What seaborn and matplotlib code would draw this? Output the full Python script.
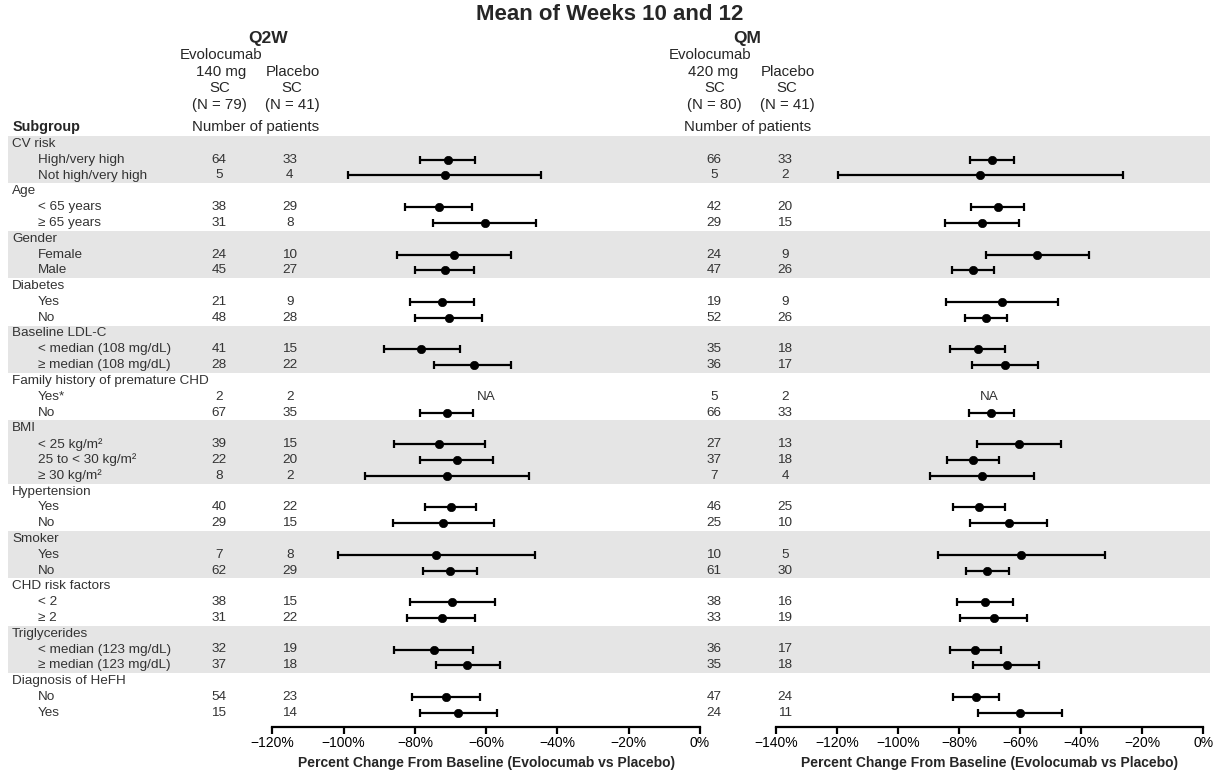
import numpy as np
import pandas as pd
import matplotlib
matplotlib.use("Agg")
import matplotlib.pyplot as plt
from matplotlib.ticker import FuncFormatter
import seaborn as sns

# ---- data -------------------------------------------------------------
group_names = ["CV risk", "Age", "Gender", "Diabetes", "Baseline LDL-C",
               "Family history of premature CHD", "BMI", "Hypertension",
               "Smoker", "CHD risk factors", "Triglycerides", "Diagnosis of HeFH"]
group_sizes = [2, 2, 2, 2, 2, 2, 3, 2, 2, 2, 2, 2]
subgroup_labels = ["High/very high", "Not high/very high",
                   "< 65 years", "\u2265 65 years",
                   "Female", "Male",
                   "Yes", "No",
                   "< median (108 mg/dL)", "\u2265 median (108 mg/dL)",
                   "Yes*", "No",
                   "< 25 kg/m\u00b2", "25 to < 30 kg/m\u00b2", "\u2265 30 kg/m\u00b2",
                   "Yes", "No",
                   "Yes", "No",
                   "< 2", "\u2265 2",
                   "< median (123 mg/dL)", "\u2265 median (123 mg/dL)",
                   "No", "Yes"]

# Q2W: evolocumab 140 mg SC vs placebo SC
q2w_n_evo = [64, 5, 38, 31, 24, 45, 21, 48, 41, 28, 2, 67, 39, 22, 8, 40, 29, 7, 62, 38, 31, 32, 37, 54, 15]
q2w_n_pbo = [33, 4, 29, 8, 10, 27, 9, 28, 15, 22, 2, 35, 15, 20, 2, 22, 15, 8, 29, 15, 22, 19, 18, 23, 14]
q2w_est = [-70.8, -71.5, -73.3, -60.3, -68.9, -71.5, -72.3, -70.5, -78.2, -63.5, np.nan, -71.1,
           -73.1, -68.3, -71.1, -70.0, -72.1, -74.0, -70.2, -69.5, -72.5, -74.7, -65.3, -71.2, -67.8]
q2w_lo = [-78.5, -98.8, -82.7, -74.9, -85.0, -79.9, -81.3, -79.9, -88.7, -74.5, np.nan, -78.7,
          -85.8, -78.5, -94.1, -77.2, -86.2, -101.7, -77.6, -81.4, -82.2, -85.8, -74.2, -80.9, -78.7]
q2w_hi = [-63.0, -44.5, -64.1, -45.9, -53.1, -63.4, -63.4, -61.1, -67.4, -53.0, np.nan, -63.6,
          -60.3, -58.1, -48.1, -62.9, -57.9, -46.4, -62.7, -57.5, -63.0, -63.7, -56.2, -61.6, -56.9]

# QM: evolocumab 420 mg SC vs placebo SC
qm_n_evo = [66, 5, 42, 29, 24, 47, 19, 52, 35, 36, 5, 66, 27, 37, 7, 46, 25, 10, 61, 38, 33, 36, 35, 47, 24]
qm_n_pbo = [33, 2, 20, 15, 9, 26, 9, 26, 18, 17, 2, 33, 13, 18, 4, 25, 10, 5, 30, 16, 19, 17, 18, 24, 11]
qm_est = [-69.3, -73.0, -67.3, -72.4, -54.4, -75.5, -65.9, -71.3, -73.8, -65.0, np.nan, -69.4,
          -60.5, -75.5, -72.5, -73.4, -63.6, -59.7, -70.8, -71.5, -68.7, -74.7, -64.4, -74.6, -60.0]
qm_lo = [-76.6, -119.7, -76.1, -84.5, -71.3, -82.2, -84.4, -78.2, -82.9, -75.8, np.nan, -76.8,
         -74.2, -84.0, -89.4, -81.9, -76.4, -87.0, -77.8, -80.7, -79.6, -83.1, -75.3, -81.9, -73.9]
qm_hi = [-62.0, -26.4, -58.8, -60.3, -37.5, -68.7, -47.6, -64.2, -65.0, -54.1, np.nan, -62.1,
         -46.7, -67.1, -55.6, -65.0, -51.2, -32.3, -63.5, -62.2, -57.7, -66.3, -53.8, -67.0, -46.2]

panel_titles = ["Q2W", "QM"]
panel_doses = ["140 mg", "420 mg"]
panel_n_evo = ["(N = 79)", "(N = 80)"]
panel_n_pbo = ["(N = 41)", "(N = 41)"]
panel_xmin = [-120, -140]

# ---- layout helpers ---------------------------------------------------
W, H = 1224, 774
LINE = 15.8          # height of one text line (px)
TOP = 136            # top of the first shaded band (px)
AX_BOTTOM = 726.7    # axis line (px)


def fx(px):
    return px / W


def fy(py):
    return 1 - py / H


# line index for each group header and each subgroup row
header_line, row_line = [], []
k = 0
for size in group_sizes:
    header_line.append(k)
    k += 1
    for _ in range(size):
        row_line.append(k)
        k += 1
n_lines = k

ylim = ((AX_BOTTOM - TOP) / LINE - 0.5, -0.5)

df = pd.DataFrame({
    "label": subgroup_labels,
    "line": row_line,
    "q2w_n_evo": q2w_n_evo, "q2w_n_pbo": q2w_n_pbo,
    "q2w_est": q2w_est, "q2w_lo": q2w_lo, "q2w_hi": q2w_hi,
    "qm_n_evo": qm_n_evo, "qm_n_pbo": qm_n_pbo,
    "qm_est": qm_est, "qm_lo": qm_lo, "qm_hi": qm_hi,
})

sns.set_theme(style="white")
plt.rcParams["font.family"] = ["Liberation Sans", "DejaVu Sans"]
plt.rcParams["axes.unicode_minus"] = True

fig = plt.figure(figsize=(W / 100, H / 100), dpi=100)

TXT = "#333333"
BAND = "#e5e5e5"
ROW_FS = 9.7
HEAD_FS = 10.8

# background table (bands and row text)
ax_bottom_frac = fy(AX_BOTTOM)
ax_height_frac = (AX_BOTTOM - TOP) / H
bg = fig.add_axes([0, ax_bottom_frac, 1, ax_height_frac])
bg.set_xlim(0, W)
bg.set_ylim(*ylim)
bg.axis("off")

for gi, (name, size) in enumerate(zip(group_names, group_sizes)):
    start = header_line[gi]
    if gi % 2 == 0:
        bg.axhspan(start - 0.5, start + size + 0.5, xmin=8 / W, xmax=1210 / W,
                   color=BAND, lw=0, zorder=0)
    bg.text(12, start, name, ha="left", va="center", fontsize=ROW_FS, color=TXT)

col_x = [(219, 290), (714, 785)]
prefixes = ["q2w", "qm"]
for _, r in df.iterrows():
    bg.text(38, r["line"], r["label"], ha="left", va="center", fontsize=ROW_FS, color=TXT)
    for (xe, xp), p in zip(col_x, prefixes):
        bg.text(xe, r["line"], f"{int(r[p + '_n_evo'])}", ha="center", va="center",
                fontsize=ROW_FS, color=TXT)
        bg.text(xp, r["line"], f"{int(r[p + '_n_pbo'])}", ha="center", va="center",
                fontsize=ROW_FS, color=TXT)

# headers
fig.text(fx(610), fy(15), "Mean of Weeks 10 and 12", ha="center", va="center",
         fontsize=16, fontweight="bold")
fig.text(fx(13), fy(127), "Subgroup", ha="left", va="center", fontsize=10.4,
         fontweight="bold")
head_offsets = [0, 495]
for i, off in enumerate(head_offsets):
    fig.text(fx(268 + off - (16 if i else 0)), fy(38), panel_titles[i], ha="center",
             va="center", fontsize=12.5, fontweight="bold")
    fig.text(fx(221 + off - 6 * i), fy(55), "Evolocumab", ha="center", va="center",
             fontsize=HEAD_FS)
    fig.text(fx(221 + off - 3 * i), fy(71.7), panel_doses[i], ha="center", va="center",
             fontsize=HEAD_FS)
    fig.text(fx(293 + off), fy(71.7), "Placebo", ha="center", va="center", fontsize=HEAD_FS)
    fig.text(fx(220 + off), fy(87.5), "SC", ha="center", va="center", fontsize=HEAD_FS)
    fig.text(fx(292 + off), fy(87.5), "SC", ha="center", va="center", fontsize=HEAD_FS)
    fig.text(fx(219 + off), fy(104.5), panel_n_evo[i], ha="center", va="center",
             fontsize=HEAD_FS)
    fig.text(fx(292.5 + off), fy(104.5), panel_n_pbo[i], ha="center", va="center",
             fontsize=HEAD_FS)
    fig.text(fx(256 + off - 3 * i), fy(127), "Number of patients", ha="center",
             va="center", fontsize=HEAD_FS)

# forest panels
panel_px = [(272.3, 700.0), (776.0, 1203.3)]
pct = FuncFormatter(lambda v, _: f"{int(v)}%".replace("-", "\u2212"))
for i, p in enumerate(prefixes):
    x0, x1 = panel_px[i]
    ax = fig.add_axes([fx(x0), ax_bottom_frac, (x1 - x0) / W, ax_height_frac])
    ax.patch.set_alpha(0)
    ax.set_xlim(panel_xmin[i], 0)
    ax.set_ylim(*ylim)
    d = df.dropna(subset=[p + "_est"])
    ax.errorbar(d[p + "_est"], d["line"],
                xerr=[d[p + "_est"] - d[p + "_lo"], d[p + "_hi"] - d[p + "_est"]],
                fmt="none", ecolor="black", elinewidth=1.6, capsize=3.2, capthick=1.6,
                zorder=2)
    sns.scatterplot(data=d, x=p + "_est", y="line", ax=ax, color="black", s=36,
                    edgecolor="black", linewidth=0.5, zorder=3, legend=False)
    na = df[df[p + "_est"].isna()]
    for _, r in na.iterrows():
        ax.text(panel_xmin[i] / 2, r["line"], "NA", ha="center", va="center",
                fontsize=ROW_FS, color=TXT)
    ax.set_xticks(np.arange(panel_xmin[i], 1, 20))
    ax.xaxis.set_major_formatter(pct)
    ax.set_yticks([])
    ax.set_ylabel("")
    ax.set_xlabel("Percent Change From Baseline (Evolocumab vs Placebo)",
                  fontsize=10, fontweight="bold", labelpad=4)
    for s in ["top", "left", "right"]:
        ax.spines[s].set_visible(False)
    ax.spines["bottom"].set_linewidth(1.6)
    ax.spines["bottom"].set_color("black")
    ax.tick_params(axis="x", direction="out", length=5, width=1.6, pad=2,
                   labelsize=10, colors="black", bottom=True)
    ax.grid(False)

fig.savefig("out.png", dpi=100)
